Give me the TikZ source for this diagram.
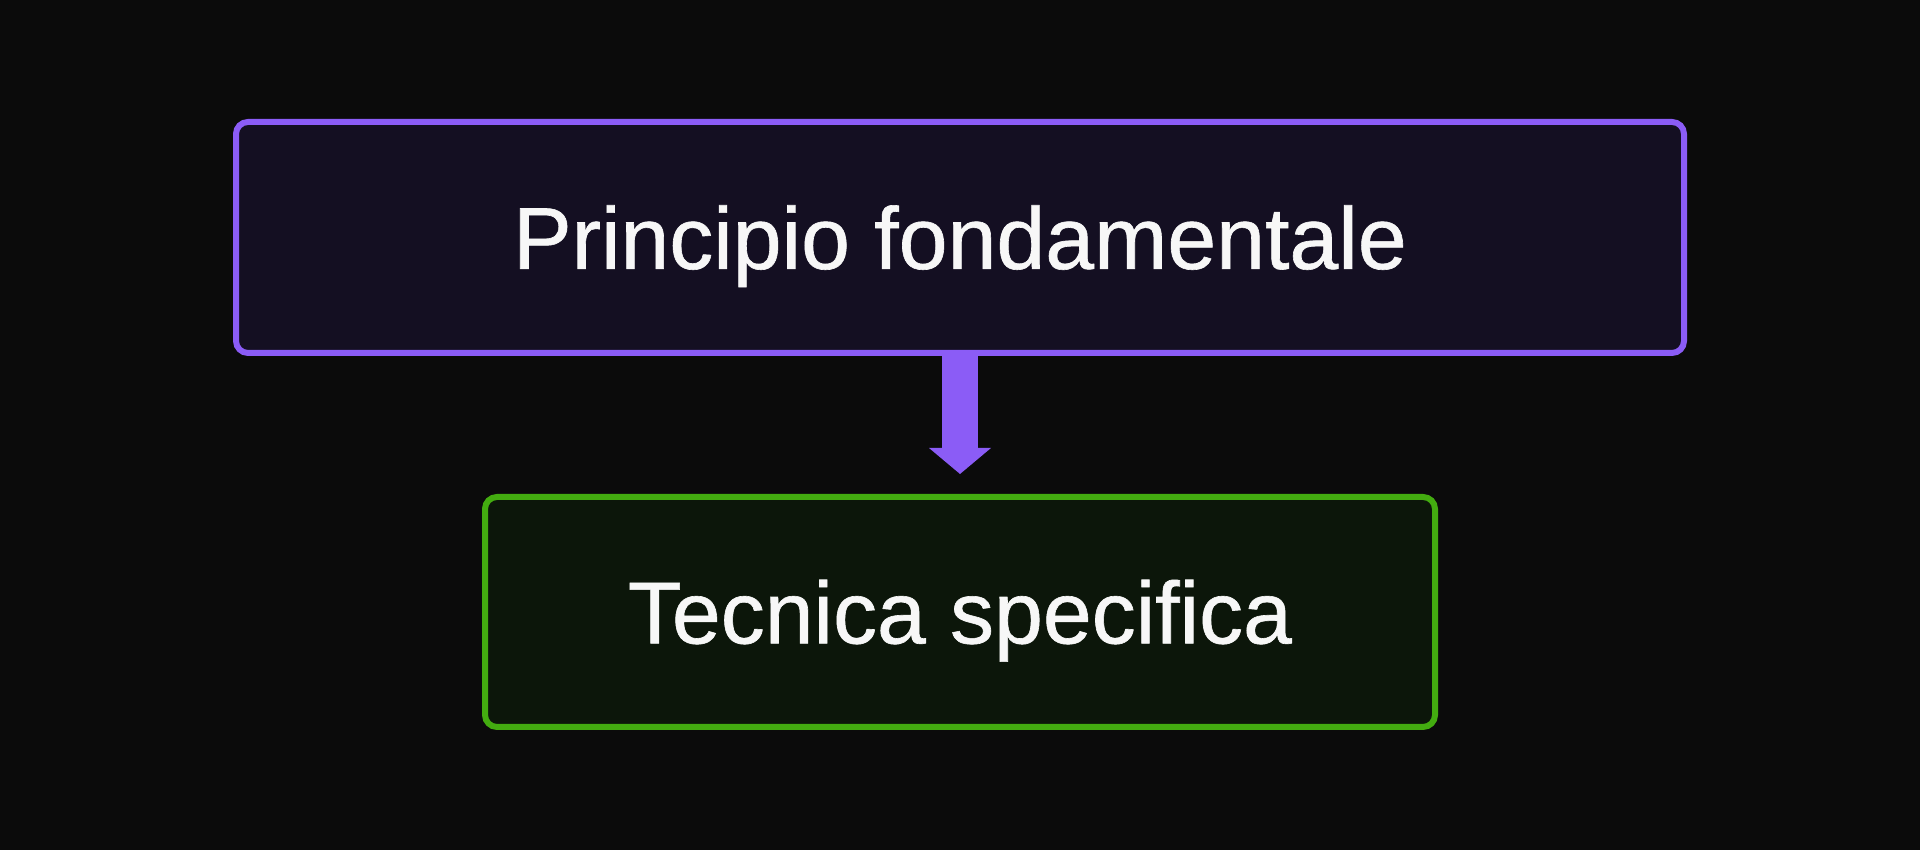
\documentclass[tikz,border=0pt]{standalone}
\usepackage{fontspec}
\setmainfont{Liberation Sans}
\newfontfamily\kastenschrift{Liberation Sans}[FakeBold=0.7]
\usetikzlibrary{positioning,arrows.meta}
\definecolor{hintergrund}{HTML}{0B0B0B}
\definecolor{lila}{HTML}{8B5CF6}
\definecolor{lilafuell}{HTML}{140F22}
\definecolor{gruen}{HTML}{43AC10}
\definecolor{gruenfuell}{HTML}{0C160A}
\definecolor{textweiss}{HTML}{F7F7F7}
\tikzstyle{kasten} = [rectangle, rounded corners=1.2mm, line width=0.6mm, inner sep=0pt,
	text=textweiss, font=\kastenschrift\fontsize{25}{30}\selectfont, text height=17.9pt, text depth=0pt]
\tikzstyle{pfeil} = [draw=lila, line width=3.6mm,
	-{Triangle[width=6.2mm, length=2.6mm, line width=0pt]}]

\begin{document}
\begin{tikzpicture}
	% Hintergrund
	\fill[hintergrund] (0,0) rectangle (19.2,8.5);
	\useasboundingbox (0,0) rectangle (19.2,8.5);

	% Kaesten
	\node[kasten, draw=lila, fill=lilafuell, minimum width=144.8mm, minimum height=23.1mm]
		(principio) at (9.6,6.125) {Principio fondamentale};
	\node[kasten, draw=gruen, fill=gruenfuell, minimum width=95.0mm, minimum height=23.0mm,
		below=13.8mm of principio] (tecnica) {Tecnica specifica};

	% Pfeil
	\draw[pfeil] (principio.south) -- ([yshift=2mm]tecnica.north);
\end{tikzpicture}
\end{document}
